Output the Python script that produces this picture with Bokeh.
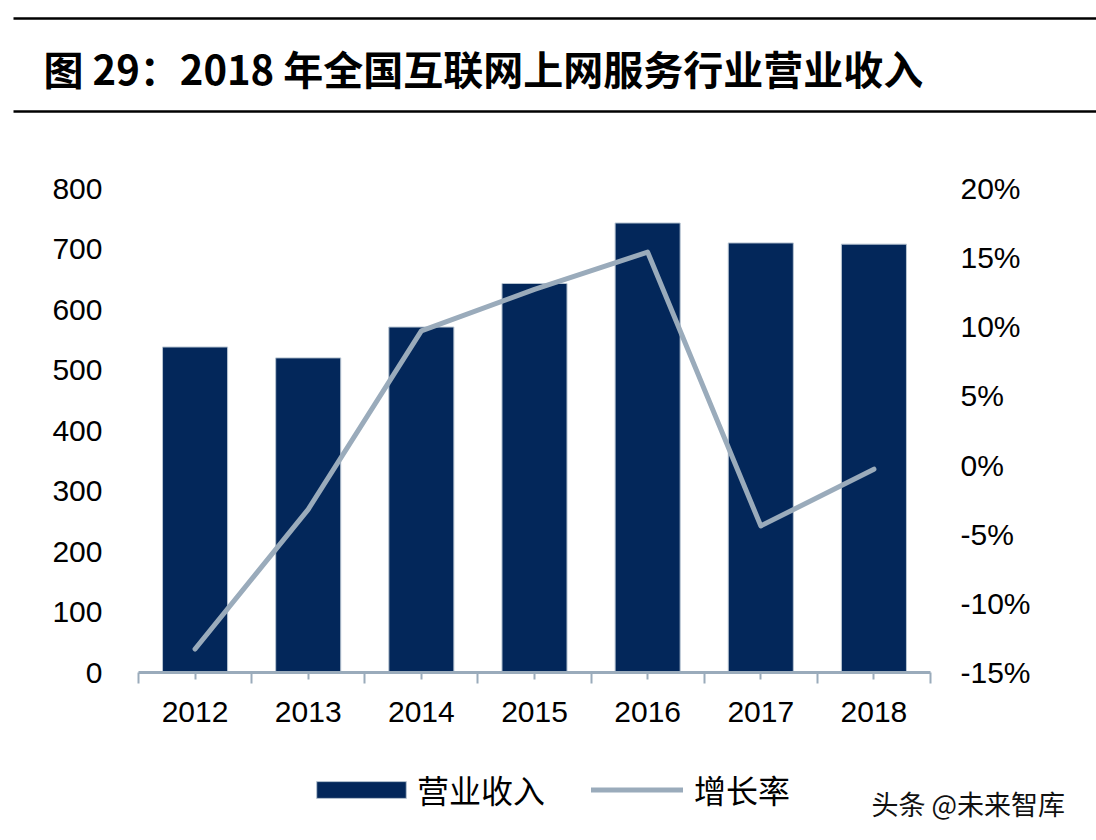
from bokeh.plotting import figure
from bokeh.models import (ColumnDataSource, Range1d, LinearAxis, FixedTicker, NumeralTickFormatter,
                          Label, Legend, LegendItem, BoxAnnotation)
from bokeh.embed import file_html
from bokeh.resources import INLINE

# data
years = [2012, 2013, 2014, 2015, 2016, 2017, 2018]
revenue = [538, 520, 571, 643, 743, 710, 708]                    # 营业收入
growth = [-0.133, -0.032, 0.097, 0.127, 0.154, -0.044, -0.003]   # 增长率
left_ticks = [0, 100, 200, 300, 400, 500, 600, 700, 800]
right_ticks = [-0.15, -0.10, -0.05, 0.0, 0.05, 0.10, 0.15, 0.20]
title_text = "图 29：2018 年全国互联网上网服务行业营业收入"
bar_label = "营业收入"
line_label = "增长率"
source_text = "头条 @未来智库"

W, H = 1096, 840
# plot area inside the canvas (px from top-left); the frame is the whole canvas so that
# title, legend and note can sit outside the plot area without being clipped
AREA_L, AREA_R, AREA_T, AREA_B = 138, 930, 188, 672
BAR = "#03275a"
LINE = "#9aabbb"
TICK_FONT = "Liberation Sans"
CJK = "Noto Sans CJK SC"


def stretch(lo, hi, px_lo, px_hi, px_total):
    """range whose [lo, hi] lands on pixels [px_lo, px_hi] of a px_total long frame"""
    per_px = (hi - lo) / (px_hi - px_lo)
    return Range1d(lo - px_lo * per_px, hi + (px_total - px_hi) * per_px)


def key(item, x, glyph_w, glyph_h, standoff):
    """one-entry legend at x (px from left), centred on the legend row of the reference"""
    lg = Legend(items=[item], orientation="horizontal", location=(x, H - 812))
    lg.glyph_width = glyph_w
    lg.glyph_height = glyph_h
    lg.label_standoff = standoff
    lg.padding = 0
    lg.margin = 0
    lg.border_line_color = None
    lg.background_fill_alpha = 0
    lg.label_text_font = CJK
    lg.label_text_font_size = "32px"
    lg.label_text_color = "black"
    return lg


x0, x1 = years[0] - 0.5, years[-1] + 0.5
y0, y1 = left_ticks[0], left_ticks[-1]
r0, r1 = right_ticks[0], right_ticks[-1]

src = ColumnDataSource(dict(year=years, revenue=revenue, growth=growth))
p = figure(width=W, height=H, output_backend="svg", toolbar_location=None, min_border=0,
           x_range=stretch(x0, x1, AREA_L, AREA_R, W),
           y_range=stretch(y0, y1, H - AREA_B, H - AREA_T, H))
p.extra_y_ranges = {"pct": stretch(r0, r1, H - AREA_B, H - AREA_T, H)}
p.outline_line_color = None
p.grid.visible = False
p.axis.visible = False

bars = p.vbar(x="year", top="revenue", width=0.575, source=src,
              fill_color=BAR, line_color="#b8c5d2", line_width=1)
line = p.line(x="year", y="growth", y_range_name="pct", source=src,
              line_color=LINE, line_width=5, line_cap="round", line_join="round")

# x axis: long ticks between years, short ticks under each bar
bounds = [y - 0.5 for y in years] + [years[-1] + 0.5]
xax = LinearAxis(ticker=FixedTicker(ticks=years, minor_ticks=bounds),
                 fixed_location=y0, bounds=(x0, x1))
xax.axis_line_color = LINE
xax.axis_line_width = 3
xax.major_tick_line_color = LINE
xax.major_tick_line_width = 2
xax.major_tick_in = 0
xax.major_tick_out = 7
xax.minor_tick_line_color = LINE
xax.minor_tick_line_width = 2
xax.minor_tick_in = 0
xax.minor_tick_out = 11
xax.major_label_standoff = 18
xax.major_label_text_font = TICK_FONT
xax.major_label_text_font_size = "30px"
xax.major_label_text_color = "black"
p.add_layout(xax, "below")

yl = LinearAxis(ticker=FixedTicker(ticks=left_ticks), fixed_location=x0, bounds=(y0, y1))
yr = LinearAxis(y_range_name="pct", ticker=FixedTicker(ticks=right_ticks),
                formatter=NumeralTickFormatter(format="0%"), fixed_location=x1, bounds=(r0, r1))
for ax, standoff in ((yl, 30), (yr, 24)):
    ax.axis_line_color = None
    ax.major_tick_line_color = None
    ax.minor_tick_line_color = None
    ax.major_label_standoff = standoff
    ax.major_label_text_font = TICK_FONT
    ax.major_label_text_font_size = "30px"
    ax.major_label_text_color = "black"
p.add_layout(yl, "left")
p.add_layout(yr, "right")

# title between two rules (screen units count up from the bottom of the canvas)
for top in (16.8, 109.8):
    p.add_layout(BoxAnnotation(left=13, right=W, top=H - top, bottom=H - top - 2.4,
                               left_units="screen", right_units="screen",
                               top_units="screen", bottom_units="screen",
                               fill_color="black", fill_alpha=1, line_color=None))
p.add_layout(Label(x=43, y=H - 67, x_units="screen", y_units="screen", text=title_text,
                   text_font=CJK, text_font_size="40px", text_font_style="bold",
                   text_color="black", text_baseline="middle"))

# legend: bar swatch is drawn inset by 10% of the glyph box, so that box is made larger
p.add_layout(key(LegendItem(label=bar_label, renderers=[bars]), 305, 112, 21, 0), "center")
p.add_layout(key(LegendItem(label=line_label, renderers=[line]), 591, 92, 17, 11), "center")

p.add_layout(Label(x=871, y=H - 803, x_units="screen", y_units="screen", text=source_text,
                   text_font=CJK, text_font_size="27px", text_color="#111111",
                   text_baseline="middle"))

open("out.html", "w").write(file_html(p, INLINE))
